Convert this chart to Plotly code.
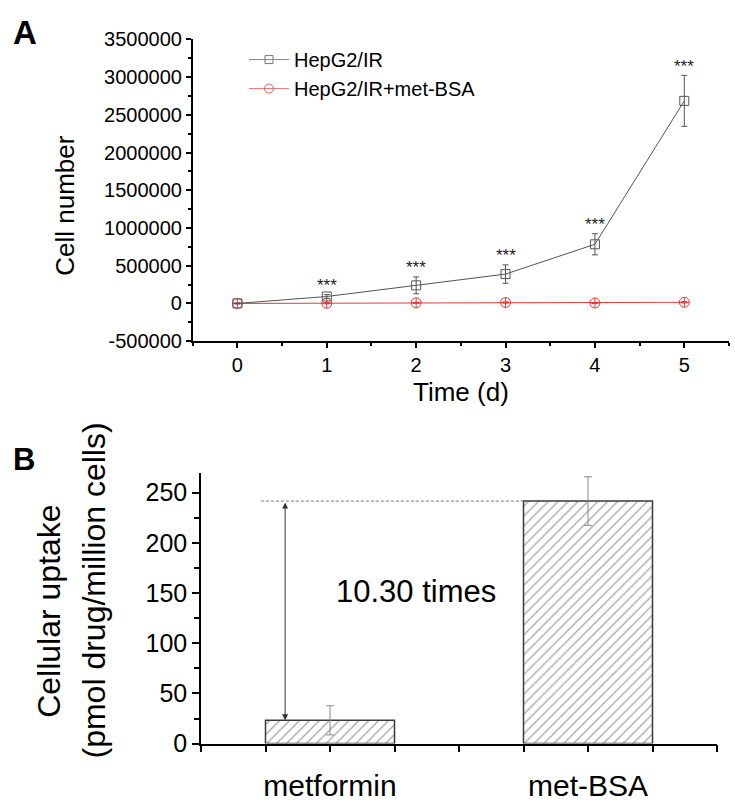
import plotly.graph_objects as go

# ---------------- data ----------------
days = [0, 1, 2, 3, 4, 5]
hepg2_ir = [0, 92000, 240000, 389000, 784000, 2685000]
hepg2_ir_err = [5000, 25000, 112000, 122000, 140000, 338000]
hepg2_met = [0, 3000, 8000, 12000, 6000, 15000]
hepg2_met_err = [6000, 8000, 8000, 8000, 8000, 8000]
sig_labels = ["", "***", "***", "***", "***", "***"]

y_tick_vals = [-500000, 0, 500000, 1000000, 1500000, 2000000, 2500000, 3000000, 3500000]
y_tick_text = ["-500000", "0", "500000", "1000000", "1500000", "2000000", "2500000", "3000000", "3500000"]

categories = ["metformin", "met-BSA"]
cat_pos = [1, 2]
uptake = [23.2, 241.6]
uptake_err = [14.5, 24.2]
fold_label = "10.30 times"

FONT = "Arial, Liberation Sans, Helvetica, sans-serif"
W, H = 735, 808


def px(xp):
    return xp / W


def py(yp):
    return 1 - yp / H


GREY = "#555555"
RED = "#e23b3b"

fig = go.Figure()

# ---- panel A data traces ----
fig.add_trace(go.Scatter(
    x=days, y=hepg2_met, mode="lines+markers", showlegend=False,
    line=dict(color=RED, width=1),
    marker=dict(symbol="circle-cross-open", size=10, color=RED, line=dict(width=1)),
    error_y=dict(type="data", array=hepg2_met_err, color=RED, thickness=1, width=3),
    xaxis="x", yaxis="y"))
fig.add_trace(go.Scatter(
    x=days, y=hepg2_ir, mode="lines+markers", showlegend=False,
    line=dict(color=GREY, width=1),
    marker=dict(symbol="square-open", size=9, color=GREY, line=dict(width=1)),
    error_y=dict(type="data", array=hepg2_ir_err, color=GREY, thickness=1, width=3),
    xaxis="x", yaxis="y"))

# legend entries
fig.add_trace(go.Scatter(
    x=[None], y=[None], mode="lines+markers", name="HepG2/IR",
    line=dict(color="#888888", width=1),
    marker=dict(symbol="square-open", size=8, color="#777777", line=dict(width=1)),
    xaxis="x", yaxis="y"))
fig.add_trace(go.Scatter(
    x=[None], y=[None], mode="lines+markers", name="HepG2/IR+met-BSA",
    line=dict(color="#e87878", width=1),
    marker=dict(symbol="circle-open", size=9, color="#e05a5a", line=dict(width=1)),
    xaxis="x", yaxis="y"))

# ---- panel B bars ----
fig.add_trace(go.Bar(
    x=cat_pos, y=uptake, width=0.5, showlegend=False,
    marker=dict(color="white", line=dict(color="#3a3a3a", width=1.5),
                pattern=dict(shape="/", fgcolor="#555555", bgcolor="white", size=7, solidity=0.2)),
    error_y=dict(type="data", array=uptake_err, color="#8a8a8a", thickness=1, width=4),
    xaxis="x2", yaxis="y2"))

annotations = []
# significance stars
for d, v, e, s in zip(days, hepg2_ir, hepg2_ir_err, sig_labels):
    if s:
        annotations.append(dict(x=d, y=v + e, xref="x", yref="y", text=s, showarrow=False,
                                yshift=9, yanchor="middle", xanchor="center",
                                font=dict(size=17, color="#222222", family=FONT)))

# panel letters and titles
annotations += [
    dict(x=px(24.5), y=py(21.7), xref="paper", yref="paper", text="<b>A</b>", showarrow=False,
         xanchor="center", yanchor="middle", font=dict(size=33, color="black", family=FONT)),
    dict(x=px(23.5), y=py(462.5), xref="paper", yref="paper", text="<b>B</b>", showarrow=False,
         xanchor="center", yanchor="middle", font=dict(size=31, color="black", family=FONT)),
    dict(x=px(65), y=py(201), xref="paper", yref="paper", text="Cell number", showarrow=False,
         textangle=-90, xanchor="center", yanchor="middle", font=dict(size=26, color="black", family=FONT)),
    dict(x=px(461), y=py(393), xref="paper", yref="paper", text="Time (d)", showarrow=False,
         xanchor="center", yanchor="middle", font=dict(size=26, color="black", family=FONT)),
    dict(x=px(49), y=py(620), xref="paper", yref="paper", text="Cellular uptake", showarrow=False,
         textangle=-90, xanchor="center", yanchor="middle", font=dict(size=32, color="black", family=FONT)),
    dict(x=px(94), y=py(598), xref="paper", yref="paper", text="(pmol drug/million cells)", showarrow=False,
         textangle=-90, xanchor="center", yanchor="middle", font=dict(size=32, color="black", family=FONT)),
    dict(x=1.333, y=152, xref="x2", yref="y2", text=fold_label, showarrow=False,
         xanchor="center", yanchor="middle", font=dict(size=31, color="black", family=FONT)),
    # double-headed arrow between the two uptake levels
    dict(x=0.826, y=uptake[0], ax=0.826, ay=uptake[1], xref="x2", yref="y2", axref="x2", ayref="y2",
         text="", showarrow=True, arrowhead=2, startarrowhead=2, arrowside="end+start",
         arrowsize=1.2, arrowwidth=1, arrowcolor="#333333", standoff=0, startstandoff=0),
]

shapes = [
    dict(type="line", xref="x2", yref="y2", x0=0.732, x1=cat_pos[1] - 0.25,
         y0=uptake[1], y1=uptake[1], line=dict(color="#777777", width=1, dash="3px,2px")),
]

axis_common = dict(showgrid=False, zeroline=False, showline=True, linecolor="black", linewidth=1.5,
                   ticks="outside", tickcolor="black", tickwidth=1.5)

fig.update_layout(
    width=W, height=H, margin=dict(l=0, r=0, t=0, b=0),
    paper_bgcolor="white", plot_bgcolor="white",
    font=dict(family=FONT, color="black"),
    xaxis=dict(domain=[px(192.7), px(729)], range=[-0.5, 5.5], tickvals=days, ticklen=5,
               minor=dict(dtick=0.5, tick0=-0.5, ticklen=3, ticks="outside", tickcolor="black", tickwidth=1.5),
               anchor="y", tickfont=dict(family=FONT, color="black", size=20), **axis_common),
    yaxis=dict(domain=[py(340.7), py(29.3)], range=[-500000, 3500000], tickvals=y_tick_vals,
               ticktext=y_tick_text, ticklen=5,
               minor=dict(dtick=250000, tick0=0, ticklen=3, ticks="outside", tickcolor="black", tickwidth=1.5),
               anchor="x", tickfont=dict(family=FONT, color="black", size=20), **axis_common),
    xaxis2=dict(domain=[px(201), px(717)], range=[0.5, 2.5], tickvals=cat_pos, ticktext=categories,
                ticklen=7, ticklabelstandoff=8,
                minor=dict(dtick=0.25, tick0=0.5, ticklen=7, ticks="outside", tickcolor="black", tickwidth=1.5),
                anchor="y2", tickfont=dict(family=FONT, color="black", size=30), **axis_common),
    yaxis2=dict(domain=[py(756), py(476.3)], range=[0, 270], dtick=50, ticklen=7,
                minor=dict(dtick=25, ticklen=5, ticks="outside", tickcolor="black", tickwidth=1.5),
                anchor="x2", tickfont=dict(family=FONT, color="black", size=25), **axis_common),
    legend=dict(x=px(244), y=py(30), xanchor="left", yanchor="top", bgcolor="rgba(0,0,0,0)",
                font=dict(size=20, family=FONT, color="black"), itemwidth=40),
    annotations=annotations, shapes=shapes,
)

fig.write_html("out.html", config={"displayModeBar": False},
               post_script="document.body.style.margin='0px';")
